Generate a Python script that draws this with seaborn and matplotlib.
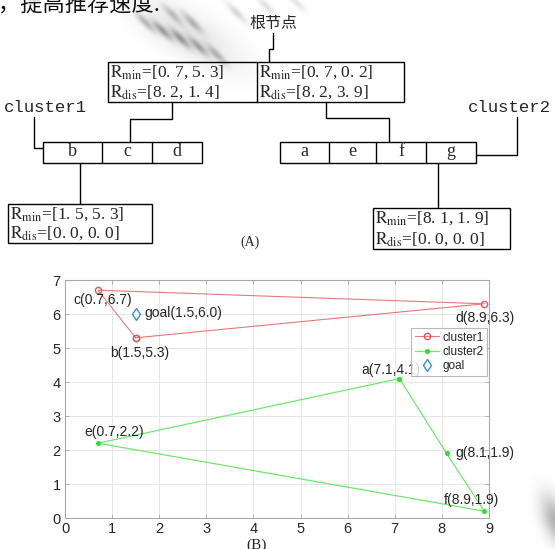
import numpy as np
import matplotlib
matplotlib.use("Agg")
import matplotlib.pyplot as plt
from matplotlib.patches import Rectangle
import seaborn as sns

# ---- data -------------------------------------------------------------
cluster1_names = ["b", "c", "d"]
cluster1_x = [1.5, 0.7, 8.9]
cluster1_y = [5.3, 6.7, 6.3]

cluster2_names = ["a", "e", "f", "g"]
cluster2_x = [7.1, 0.7, 8.9, 8.1]
cluster2_y = [4.1, 2.2, 0.2, 1.9]

goal_x = [1.5]
goal_y = [6.0]

# text printed next to each point
point_labels = {
    "a": "a(7.1,4.1)", "b": "b(1.5,5.3)", "c": "c(0.7,6.7)", "d": "d(8.9,6.3)",
    "e": "e(0.7,2.2)", "f": "f(8.9,1.9)", "g": "g(8.1,1.9)", "goal": "goal(1.5,6.0)",
}

# R-tree node summaries
root_rmin = [(0.7, 5.3), (0.7, 0.2)]
root_rdis = [(8.2, 1.4), (8.2, 3.9)]
leaf1_entries = ["b", "c", "d"]
leaf2_entries = ["a", "e", "f", "g"]
b_rmin, b_rdis = (1.5, 5.3), (0.0, 0.0)
g_rmin, g_rdis = (8.1, 1.9), (0.0, 0.0)
root_label = "根节点"
cluster_labels = ["cluster1", "cluster2"]

# ---- figure -----------------------------------------------------------
W, H = 555, 549
sns.set_theme(style="white")
plt.rcParams["font.family"] = ["Liberation Sans", "DejaVu Sans"]
plt.rcParams["mathtext.fontset"] = "stix"
fig = plt.figure(figsize=(W / 100, H / 100), dpi=100)
fig.patch.set_facecolor("white")

# canvas in pixel units for the tree diagram
cv = fig.add_axes([0, 0, 1, 1], zorder=0)
cv.set_xlim(0, W)
cv.set_ylim(H, 0)
cv.axis("off")

# faint grey watermark strokes
yy, xx = np.mgrid[0:H, 0:W]
wm = np.zeros((H, W))
def stroke(cx, cy, length, width, angle, strength):
    a = np.deg2rad(angle)
    dx, dy = xx - cx, yy - cy
    u = dx * np.cos(a) + dy * np.sin(a)
    v = -dx * np.sin(a) + dy * np.cos(a)
    return strength * np.exp(-(u / length) ** 2 - (v / width) ** 2)
for cx, cy, s in [(145, 22, 0.24), (162, 30, 0.32), (180, 38, 0.32), (198, 46, 0.28),
                  (216, 54, 0.24), (172, 14, 0.20), (192, 22, 0.24), (236, 12, 0.15),
                  (266, 6, 0.12), (296, 2, 0.10)]:
    wm += stroke(cx, cy, 13, 3.5, 45, s)
wm += stroke(190, 35, 60, 22, 30, 0.10)
wm += stroke(555, 520, 26, 12, 70, 0.30)
wm = np.clip(wm, 0, 0.5)
cv.imshow(1 - wm, cmap="gray", vmin=0, vmax=1, extent=(0, W, H, 0),
          aspect="auto", interpolation="bilinear", zorder=0)

# cut-off line of body text at the top
cv.text(-2, 11, "，提高推荐速度.", fontsize=16, color="#111111",
        family=["Noto Sans CJK SC", "DejaVu Sans"], va="baseline", ha="left")

def fmt(pair):
    return "[" + ", ".join(f"{v:.1f}".replace(".", ". ") for v in pair) + "]"

serif = ["Liberation Serif", "DejaVu Serif"]
K = dict(color="black", lw=1.0, zorder=2)
FS = 12.5

def box(x0, y0, x1, y1):
    cv.add_patch(Rectangle((x0, y0), x1 - x0, y1 - y0, fill=False,
                           ec="black", lw=1.0, zorder=2))

def two_rows(x, y1, y2, rmin, rdis):
    cv.text(x, y1, r"$\mathrm{R_{min}}$=" + fmt(rmin), fontsize=FS,
            family=serif, va="center", ha="left", zorder=3)
    cv.text(x, y2, r"$\mathrm{R_{dis}}$=" + fmt(rdis), fontsize=FS,
            family=serif, va="center", ha="left", zorder=3)

# root node
cv.text(273, 23, root_label, fontsize=11.5, family=["Noto Sans CJK SC"],
        ha="center", va="center")
cv.plot([273, 273, 269, 269], [33, 49, 49, 62], **K)
box(108, 62, 404, 102)
cv.plot([257, 257], [62, 102], **K)
two_rows(110, 72, 92, root_rmin[0], root_rdis[0])
two_rows(259, 72, 92, root_rmin[1], root_rdis[1])

# leaf node of cluster1
leaf1_edges = [43, 102, 152, 202]
box(leaf1_edges[0], 142, leaf1_edges[-1], 163)
for i, name in enumerate(leaf1_entries):
    if i:
        cv.plot([leaf1_edges[i]] * 2, [142, 163], **K)
    cv.text((leaf1_edges[i] + leaf1_edges[i + 1]) / 2, 152, name, fontsize=13,
            family=serif, ha="center", va="center")
cv.plot([172, 172, 130, 130], [102, 119, 119, 142], **K)
cv.text(4, 107, cluster_labels[0], fontsize=12.5, family=["Liberation Mono"],
        ha="left", va="center")
cv.plot([34, 34, 43], [117, 148, 148], **K)

# leaf node of cluster2
leaf2_edges = [280, 329, 376, 426, 476]
box(leaf2_edges[0], 142, leaf2_edges[-1], 163)
for i, name in enumerate(leaf2_entries):
    if i:
        cv.plot([leaf2_edges[i]] * 2, [142, 163], **K)
    cv.text((leaf2_edges[i] + leaf2_edges[i + 1]) / 2, 152, name, fontsize=13,
            family=serif, ha="center", va="center")
cv.plot([326, 326, 389, 389], [102, 118, 118, 142], **K)
cv.text(551, 107, cluster_labels[1], fontsize=12.5, family=["Liberation Mono"],
        ha="right", va="center")
cv.plot([517, 517, 476], [117, 155, 155], **K)

# entry summaries for b and g
cv.plot([80, 80], [163, 204], **K)
box(8, 204, 152, 243)
two_rows(10, 214, 233, b_rmin, b_rdis)
cv.plot([438, 438], [163, 208], **K)
box(373, 208, 510, 249)
two_rows(375, 218, 239, g_rmin, g_rdis)

cv.text(250, 242, "(A)", fontsize=10, family=serif, ha="center", va="center")
cv.text(257, 539, "(B)", fontsize=11, family=serif, ha="center", va="top")

# ---- scatter / polygon plot ------------------------------------------
ax = fig.add_axes([65 / W, 1 - 518 / H, 424 / W, 238 / H], zorder=1)
ax.set_facecolor("white")

red, green, blue = "#e05a5a", "#2fe02f", "#3a8fc7"
p1x = cluster1_x + cluster1_x[:1]
p1y = cluster1_y + cluster1_y[:1]
p2x = cluster2_x + cluster2_x[:1]
p2y = cluster2_y + cluster2_y[:1]

sns.lineplot(x=p1x, y=p1y, sort=False, estimator=None, ax=ax, color="#e87878",
             lw=0.8, marker="o", markersize=4.5, mfc="none", mec=red, mew=1.0,
             label="cluster1")
sns.lineplot(x=p2x, y=p2y, sort=False, estimator=None, ax=ax, color="#6ee86e",
             lw=0.9, marker="o", markersize=3.2, mfc=green, mec=green, mew=0.5,
             label="cluster2")
sns.lineplot(x=goal_x, y=goal_y, sort=False, estimator=None, ax=ax, ls="none",
             marker="d", markersize=6, mfc="none", mec=blue, mew=1.0, label="goal")

all_pts = dict(zip(cluster1_names + cluster2_names + ["goal"],
                   zip(cluster1_x + cluster2_x + goal_x, cluster1_y + cluster2_y + goal_y)))
offsets = {
    "c": (5, -10, "center"), "goal": (9, 1, "left"), "b": (4, -15, "center"),
    "d": (1, -14, "center"), "a": (-9, 9, "center"), "e": (16, 11, "center"),
    "g": (9, 0, "left"), "f": (-13, 11, "center"),
}
for name, (dx, dy, ha) in offsets.items():
    px, py = all_pts[name]
    ax.annotate(point_labels[name], (px, py), xytext=(dx, dy),
                textcoords="offset pixels", ha=ha, va="center",
                fontsize=10, color="#262626")

ax.set_xlim(0, 9)
ax.set_ylim(0, 7)
ax.set_xticks(range(0, 10))
ax.set_yticks(range(0, 8))
ax.grid(True, color="#e6e6e6", lw=0.7)
ax.set_axisbelow(True)
for sp in ax.spines.values():
    sp.set_color("#a8a8a8")
    sp.set_linewidth(0.8)
ax.tick_params(direction="in", length=3, width=0.6, color="#a8a8a8",
               labelsize=10.5, labelcolor="#262626", top=True, right=True,
               left=True, bottom=True, pad=3)
ax.set_xlabel("")
ax.set_ylabel("")

leg = ax.legend(loc="upper right", bbox_to_anchor=(0.995, 0.798),
                borderaxespad=0, frameon=True, fancybox=False, fontsize=8.5,
                handlelength=2.0, handletextpad=0.3, labelspacing=0.2,
                borderpad=0.3, edgecolor="#a8a8a8")
leg.get_frame().set_linewidth(0.8)

fig.savefig("out.png", dpi=100, facecolor="white")
